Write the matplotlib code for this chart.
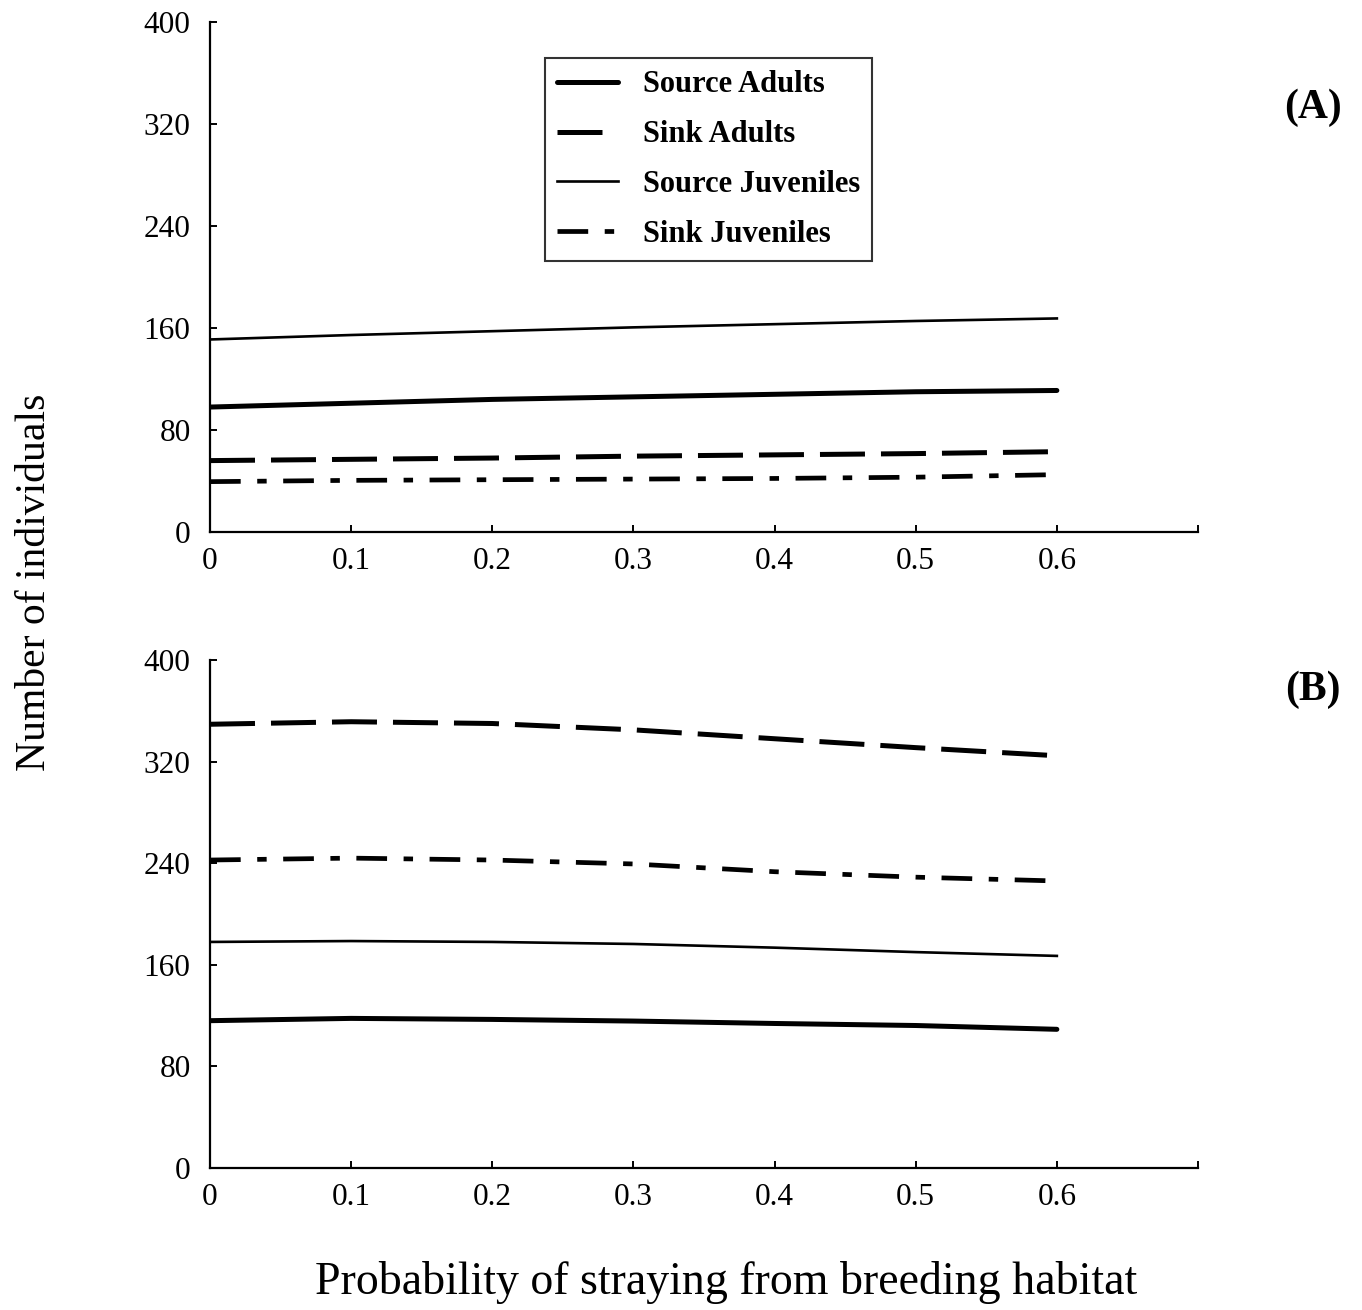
import matplotlib
matplotlib.use("Agg")
import matplotlib.pyplot as plt
from matplotlib.lines import Line2D

plt.rcParams['font.family'] = ['Liberation Serif', 'DejaVu Serif']

x = [0, 0.1, 0.2, 0.3, 0.4, 0.5, 0.6]

# Panel A
a_source_adults = [98, 101, 104, 106, 108, 110, 111]
a_sink_adults = [56, 57, 58, 59.5, 60.5, 61.5, 63]
a_source_juv = [151, 154.5, 157.5, 160.5, 163, 165.5, 167.5]
a_sink_juv = [39.5, 40.5, 41, 41.5, 42, 43, 45]

# Panel B
b_source_adults = [116, 117.8, 117, 115.7, 113.8, 112.2, 109.2]
b_sink_adults = [349.4, 351.4, 350, 345, 338, 331, 324.6]
b_source_juv = [178, 178.7, 178, 176.4, 173.5, 170, 167]
b_sink_juv = [242.5, 244, 242.5, 239.4, 233.3, 229, 226]

xticks = [0, 0.1, 0.2, 0.3, 0.4, 0.5, 0.6, 0.7]
xticklabels = ['0', '0.1', '0.2', '0.3', '0.4', '0.5', '0.6', '']
yticks = [0, 80, 160, 240, 320, 400]
labels = ['Source Adults', 'Sink Adults', 'Source Juveniles', 'Sink Juveniles']

W, H = 1362, 1310
fig = plt.figure(figsize=(W / 100, H / 100), dpi=100)

axA = fig.add_axes([210 / W, 1 - 532 / H, 988 / W, 510 / H])
axB = fig.add_axes([210 / W, 1 - 1168 / H, 988 / W, 508 / H])

styles = [
    dict(color='black', lw=3.6, ls='-', solid_capstyle='round'),
    dict(color='black', lw=3.6, ls=(0, (9.0, 3.2))),
    dict(color='black', lw=1.9, ls='-'),
    dict(color='black', lw=3.4, ls=(0, (6.5, 3.5, 2.0, 3.5))),
]

def draw(ax, series):
    for s, st in zip(series, styles):
        ax.plot(x, s, **st)
    ax.set_xlim(0, 0.7)
    ax.set_ylim(0, 400)
    ax.set_xticks(xticks)
    ax.set_xticklabels(xticklabels)
    ax.set_yticks(yticks)
    for sp in ['top', 'right']:
        ax.spines[sp].set_visible(False)
    for sp in ['left', 'bottom']:
        ax.spines[sp].set_linewidth(1.6)
    ax.tick_params(axis='both', direction='in', length=5, width=1.4,
                   labelsize=22.5)
    ax.tick_params(axis='y', pad=14)
    ax.tick_params(axis='x', pad=11)
    for t in ax.get_xticklabels() + ax.get_yticklabels():
        t.set_fontweight('medium')

draw(axA, [a_source_adults, a_sink_adults, a_source_juv, a_sink_juv])
draw(axB, [b_source_adults, b_sink_adults, b_source_juv, b_sink_juv])

handles = [Line2D([0], [0], **st) for st in styles]
leg = axA.legend(handles, labels, loc='upper left',
                 bbox_to_anchor=(0.339, 0.929), borderaxespad=0,
                 prop={'size': 22, 'weight': 'bold'}, frameon=True,
                 fancybox=False, handlelength=2.0, handletextpad=0.8,
                 labelspacing=0.68, borderpad=0.4)
leg.get_frame().set_edgecolor('black')
leg.get_frame().set_linewidth(1.5)

fig.text(1313 / W, 1 - 108 / H, '(A)', fontsize=30, fontweight='bold',
         ha='center', va='center')
fig.text(1313 / W, 1 - 690 / H, '(B)', fontsize=30, fontweight='bold',
         ha='center', va='center')
fig.text(35 / W, 1 - 582 / H, 'Number of individuals', fontsize=30,
         rotation=90, ha='center', va='center')
fig.text(726 / W, 1 - 1283 / H, 'Probability of straying from breeding habitat',
         fontsize=33, ha='center', va='center')

fig.savefig('out.png', dpi=100)
